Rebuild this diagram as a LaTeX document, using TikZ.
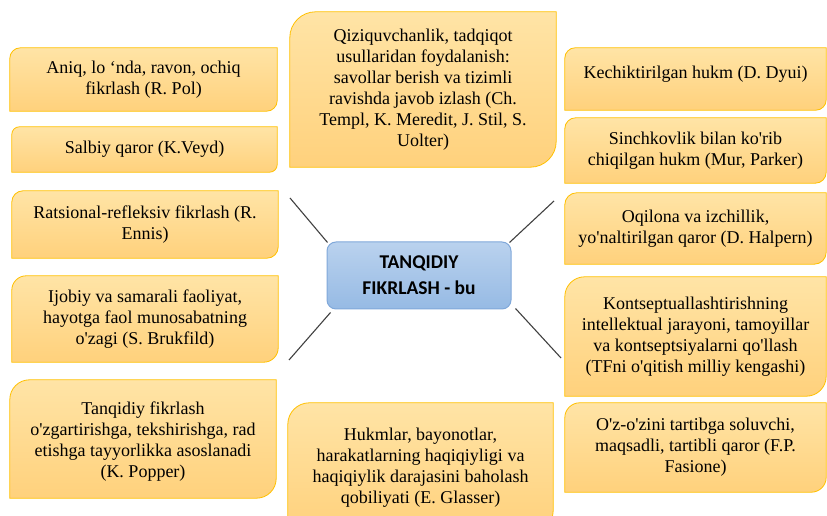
\documentclass[tikz,border=0pt]{standalone}
\usepackage{fontspec}
\setmainfont{Liberation Serif}[Ligatures=TeXOff]
\newfontfamily\hubfont{Carlito}
\usetikzlibrary{calc,backgrounds}
\definecolor{boxtop}{RGB}{255,228,166}
\definecolor{boxbot}{RGB}{255,209,124}
\definecolor{boxline}{RGB}{255,192,0}
\definecolor{hubtop}{RGB}{186,210,238}
\definecolor{hubbot}{RGB}{150,186,228}
\definecolor{hubline}{RGB}{128,168,218}
\definecolor{spokecol}{RGB}{64,64,64}

\begin{document}
\begin{tikzpicture}[x=1pt,y=1pt,
  idea/.style={inner sep=0pt,align=center,font=\fontsize{18}{21}\selectfont},
  ideabox/.style={top color=boxtop,bottom color=boxbot,draw=boxline,line width=0.8pt},
  hub/.style={rounded corners=9pt,top color=hubtop,bottom color=hubbot,draw=hubline,line width=1pt,
    minimum width=184pt,minimum height=67pt,inner sep=0pt,align=center,
    font=\hubfont\bfseries\fontsize{19.5}{26}\selectfont},
  spoke/.style={draw=spokecol,line width=1.1pt}]
  \useasboundingbox (0,0) rectangle (827,516);
  \clip (0,0) rectangle (827,516);
  \node[hub] (hub) at (419,240.5) {TANQIDIY\\FIKRLASH - bu};
  % left column
  \node[idea,minimum width=267pt,minimum height=63pt] (pol) at (143.5,436.5) {Aniq, lo ‘nda, ravon, ochiq\\fikrlash (R. Pol)};
  \node[idea,minimum width=265pt,minimum height=45pt] (veyd) at (144.5,366.5) {Salbiy qaror (K.Veyd)};
  \node[idea,minimum width=266pt,minimum height=67pt] (ennis) at (145,291.5) {Ratsional-refleksiv fikrlash (R.\\Ennis)};
  \node[idea,minimum width=266pt,minimum height=86pt] (brukfild) at (145,197) {Ijobiy va samarali faoliyat,\\hayotga faol munosabatning\\o'zagi (S. Brukfild)};
  \node[idea,minimum width=266pt,minimum height=118pt,text height=80pt] (popper) at (143,77) {Tanqidiy fikrlash\\o'zgartirishga, tekshirishga, rad\\etishga tayyorlikka asoslanadi\\(K. Popper)};
  % middle
  \node[idea,minimum width=266pt,minimum height=155pt] (templ) at (423,426.5) {Qiziquvchanlik, tadqiqot\\usullaridan foydalanish:\\savollar berish va tizimli\\ravishda javob izlash (Ch.\\Templ, K. Meredit, J. Stil, S.\\Uolter)};
  \node[idea,minimum width=265pt,minimum height=129pt] (glasser) at (420.5,48.5) {Hukmlar, bayonotlar,\\harakatlarning haqiqiyligi va\\haqiqiylik darajasini baholash\\qobiliyati (E. Glasser)};
  % right column
  \node[idea,minimum width=261pt,minimum height=62pt,text depth=13pt] (dyui) at (695.5,437) {Kechiktirilgan hukm (D. Dyui)};
  \node[idea,minimum width=261pt,minimum height=65pt] (parker) at (695.5,365.5) {Sinchkovlik bilan ko'rib\\chiqilgan hukm (Mur, Parker)};
  \node[idea,minimum width=261pt,minimum height=71pt] (halpern) at (695.5,287.5) {Oqilona va izchillik,\\yo'naltirilgan qaror (D. Halpern)};
  \node[idea,minimum width=261pt,minimum height=119pt] (kengash) at (695.5,179.5) {Kontseptuallashtirishning\\intellektual jarayoni, tamoyillar\\va kontseptsiyalarni qo'llash\\(TFni o'qitish milliy kengashi)};
  \node[idea,minimum width=261pt,minimum height=89pt] (fasione) at (695.5,68.5) {O'z-o'zini tartibga soluvchi,\\maqsadli, tartibli qaror (F.P.\\Fasione)};
  % boxes with two round corners
  \begin{scope}[on background layer]
    \foreach \b in {pol,veyd,ennis,brukfild,popper,templ,glasser,dyui,parker,halpern,kengash,fasione}
      \path[ideabox] let \p1=(\b.north west), \p2=(\b.south east), \n1={min(\x2-\x1,\y1-\y2)/6} in
        (\x1,\y2) -- (\x1,\y1-\n1) arc[start angle=180,end angle=90,radius=\n1]
        -- (\x2,\y1) -- (\x2,\y2+\n1) arc[start angle=0,end angle=-90,radius=\n1] -- cycle;
  \end{scope}
  % spokes
  \coordinate (ul) at (290,318);
  \coordinate (ur) at (554,315);
  \coordinate (ll) at (289,156);
  \coordinate (lr) at (561,158);
  \draw[spoke] ([shift={(1,-1)}]hub.north west) -- (ul);
  \draw[spoke] ([shift={(-2,-1)}]hub.north east) -- (ur);
  \draw[spoke] ([shift={(4,-3)}]hub.south west) -- (ll);
  \draw[spoke] ([shift={(4,1)}]hub.south east) -- (lr);
\end{tikzpicture}
\end{document}
